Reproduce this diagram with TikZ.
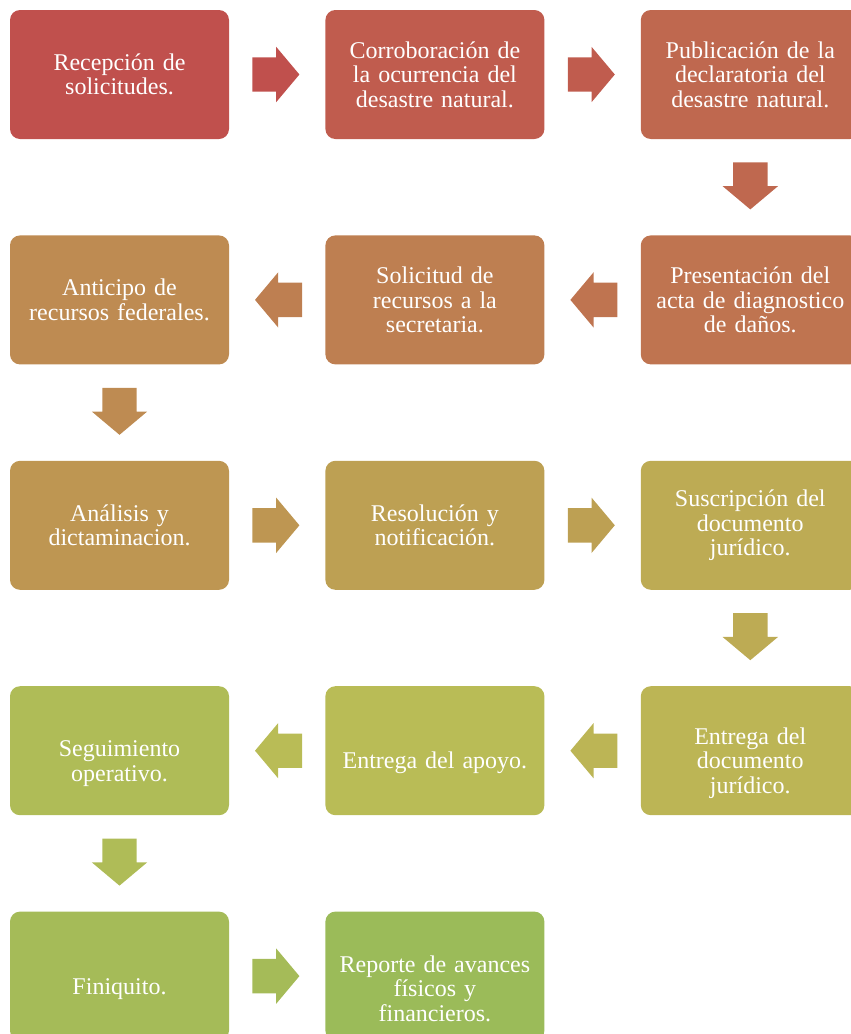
\documentclass[tikz,border=0pt]{standalone}
\usepackage{fontspec}
\setmainfont{Liberation Serif}[WordSpace=0.7]
\usepackage{tikz}
\usetikzlibrary{shapes.arrows,positioning,calc}
\definecolor{tone1}{RGB}{192,80,77}
\definecolor{tone2}{RGB}{192,92,78}
\definecolor{tone3}{RGB}{191,104,79}
\definecolor{tone4}{RGB}{191,116,80}
\definecolor{tone5}{RGB}{190,127,81}
\definecolor{tone6}{RGB}{190,139,82}
\definecolor{tone7}{RGB}{190,150,82}
\definecolor{tone8}{RGB}{189,160,83}
\definecolor{tone9}{RGB}{189,171,84}
\definecolor{tone10}{RGB}{188,181,85}
\definecolor{tone11}{RGB}{185,188,86}
\definecolor{tone12}{RGB}{175,188,87}
\definecolor{tone13}{RGB}{165,187,88}
\definecolor{tone14}{RGB}{155,187,89}

\begin{document}
\begin{tikzpicture}[
    box/.style={rectangle, rounded corners=10pt, minimum width=219pt, minimum height=129pt, text width=205pt, inner sep=0pt, align=center, text=white, font=\fontsize{24}{24.5}\selectfont},
    flow/.style={single arrow, draw=none, anchor=tail, minimum height=47pt, single arrow head extend=10.5pt, single arrow tip angle=100, inner xsep=0pt, inner ysep=17pt}
]
    \useasboundingbox (0,0) rectangle (851pt,-1034pt);

    % Row 1
    \node[box, fill=tone1] (recep) at (119.5pt,-74.5pt) {Recepción de\\solicitudes.};
    \node[box, fill=tone2, right=96pt of recep] (corrob) {Corroboración de\\la ocurrencia del\\desastre natural.};
    \node[box, fill=tone3, right=96pt of corrob] (public) {Publicación de la\\declaratoria del\\desastre natural.};

    % Row 2
    \node[box, fill=tone4, below=96pt of public] (present) {Presentación del\\acta de diagnostico\\de daños.};
    \node[box, fill=tone5, left=96pt of present] (solicit) {Solicitud de\\recursos a la\\secretaria.};
    \node[box, fill=tone6, left=96pt of solicit] (anticipo) {Anticipo de\\recursos federales.};

    % Row 3
    \node[box, fill=tone7, below=96pt of anticipo] (analisis) {Análisis y\\dictaminacion.};
    \node[box, fill=tone8, right=96pt of analisis] (resol) {Resolución y\\notificación.};
    \node[box, fill=tone9, right=96pt of resol] (suscrip) {Suscripción del\\documento\\jurídico.};

    % Row 4
    \node[box, fill=tone10, below=96pt of suscrip] (entdoc) {\strut\\Entrega del\\documento\\jurídico.};
    \node[box, fill=tone11, left=96pt of entdoc] (entapoyo) {\strut\\Entrega del apoyo.};
    \node[box, fill=tone12, left=96pt of entapoyo] (segui) {\strut\\Seguimiento\\operativo.};

    % Row 5
    \node[box, fill=tone13, below=96pt of segui] (finiq) {\strut\\Finiquito.};
    \node[box, fill=tone14, right=96pt of finiq] (reporte) {\strut\\Reporte de avances\\físicos y\\financieros.};

    % Arrows
    \node[flow, fill=tone1] (a1) at ([xshift=23pt]recep.east) {};
    \node[flow, fill=tone2] (a2) at ([xshift=23pt]corrob.east) {};
    \node[flow, fill=tone3, rotate=-90] (a3) at ([yshift=-23pt]public.south) {};
    \node[flow, fill=tone4, rotate=180] (a4) at ([xshift=-23pt]present.west) {};
    \node[flow, fill=tone5, rotate=180] (a5) at ([xshift=-23pt]solicit.west) {};
    \node[flow, fill=tone6, rotate=-90] (a6) at ([yshift=-23pt]anticipo.south) {};
    \node[flow, fill=tone7] (a7) at ([xshift=23pt]analisis.east) {};
    \node[flow, fill=tone8] (a8) at ([xshift=23pt]resol.east) {};
    \node[flow, fill=tone9, rotate=-90] (a9) at ([yshift=-23pt]suscrip.south) {};
    \node[flow, fill=tone10, rotate=180] (a10) at ([xshift=-23pt]entdoc.west) {};
    \node[flow, fill=tone11, rotate=180] (a11) at ([xshift=-23pt]entapoyo.west) {};
    \node[flow, fill=tone12, rotate=-90] (a12) at ([yshift=-23pt]segui.south) {};
    \node[flow, fill=tone13] (a13) at ([xshift=23pt]finiq.east) {};
\end{tikzpicture}
\end{document}
